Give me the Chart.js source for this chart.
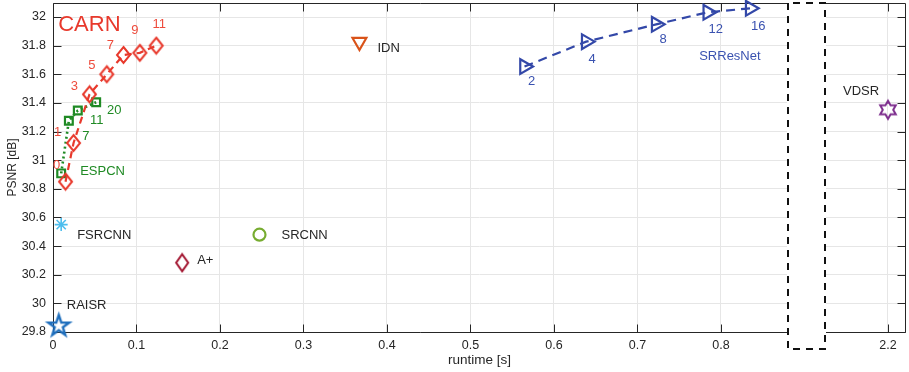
<!DOCTYPE html>
<html><head><meta charset="utf-8">
<script src="https://cdn.jsdelivr.net/npm/chart.js@4.4.1/dist/chart.umd.min.js"></script>
<style>html,body{margin:0;padding:0;background:#fff}#wrap{width:909px;height:372px;position:relative}</style>
</head><body><div id="wrap"><canvas id="c"></canvas></div>
<script>
// ---------------- data ----------------
const carnRuntime = [0.015, 0.0246, 0.0437, 0.0644, 0.0844, 0.104, 0.1236];
const carnPSNR    = [30.85, 31.12, 31.46, 31.60, 31.735, 31.75, 31.80];
const carnLabels  = ['0', '1', '3', '5', '7', '9', '11'];

const espcnRuntime = [0.0098, 0.019, 0.0297, 0.0517];
const espcnPSNR    = [30.908, 31.275, 31.347, 31.405];
const espcnLabels  = ['', '7', '11', '20'];

const srresRuntime = [0.5647, 0.6386, 0.7224, 0.7842, 0.835];
const srresPSNR    = [31.654, 31.828, 31.949, 32.033, 32.061];
const srresLabels  = ['2', '4', '8', '12', '16'];

const singleNames   = ['FSRCNN', 'A+', 'SRCNN', 'RAISR', 'IDN', 'VDSR'];
const singleRuntime = [0.0098, 0.1547, 0.2473, 0.0069, 0.367, 2.2];
const singlePSNR    = [30.55, 30.284, 30.48, 29.842, 31.826, 31.352];

const xTickValues = [0, 0.1, 0.2, 0.3, 0.4, 0.5, 0.6, 0.7, 0.8, 2.2];
const yTickValues = [29.8, 30, 30.2, 30.4, 30.6, 30.8, 31, 31.2, 31.4, 31.6, 31.8, 32];

const xTitle = 'runtime [s]';
const yTitle = 'PSNR [dB]';

// ---------------- broken axis ----------------
const BREAK_AT = 1.0;       // runtimes beyond this are drawn after the break
const BREAK_SHIFT = 1.2;
const GAP_FROM = 0.8795, GAP_TO = 0.926;   // axis-space extent of the break
function toAxis(v) { return v > BREAK_AT ? v - BREAK_SHIFT : v; }
function fromAxis(v) { return v > 0.9 ? v + BREAK_SHIFT : v; }
function fmt(v) { return String(Math.round(v * 10) / 10); }

// ---------------- marker images ----------------
function markerCanvas(w, h, draw) {
  const c = document.createElement('canvas'); c.width = w; c.height = h;
  draw(c.getContext('2d'), w, h); return c;
}
function diamond(color, w, h, lw) {
  return markerCanvas(w + 2 * lw, h + 2 * lw, (g, W, H) => {
    g.strokeStyle = color; g.lineWidth = lw; g.lineJoin = 'miter';
    g.beginPath(); g.moveTo(W / 2, lw); g.lineTo(W - lw, H / 2); g.lineTo(W / 2, H - lw); g.lineTo(lw, H / 2);
    g.closePath(); g.stroke();
  });
}
function starMarker(color, n, R, r, lw) {
  const S = Math.ceil(2 * R + 2 * lw + 4);
  return markerCanvas(S, S, (g) => {
    g.strokeStyle = color; g.lineWidth = lw; g.lineJoin = 'miter';
    g.beginPath();
    for (let k = 0; k < 2 * n; k++) {
      const rad = k % 2 === 0 ? R : r;
      const a = -Math.PI / 2 + k * Math.PI / n;
      g.lineTo(S / 2 + rad * Math.cos(a), S / 2 + rad * Math.sin(a));
    }
    g.closePath(); g.stroke();
  });
}

const C = {
  carn: '#e8392c', carnText: '#ee4b3c',
  espcn: '#1f8a24', srres: '#3348a8', srresText: '#3a52b0',
  fsrcnn: '#4dbeee', aplus: '#a2142f', srcnn: '#77ac30', raisr: '#1f6fbd',
  idn: '#d95319', vdsr: '#7e2f8e', text: '#262626'
};
const FONT = '"Liberation Sans", Arial, Helvetica, sans-serif';

function pts(xs, ys) { return xs.map((x, i) => ({ x: toAxis(x), y: ys[i] })); }
function single(i) { return [{ x: toAxis(singleRuntime[i]), y: singlePSNR[i] }]; }

const datasets = [
  { label: 'CARN', data: pts(carnRuntime, carnPSNR), showLine: true, borderColor: C.carn, borderWidth: 2.2,
    borderDash: [7, 5], pointStyle: diamond(C.carn, 13, 16, 2), pointRadius: 8, backgroundColor: 'transparent' },
  { label: 'ESPCN', data: pts(espcnRuntime, espcnPSNR), showLine: true, borderColor: C.espcn, borderWidth: 2.6,
    borderDash: [2, 3], pointStyle: 'rect', pointRadius: 5.5, pointBorderWidth: 2.2, pointBorderColor: C.espcn, pointBackgroundColor: 'transparent' },
  { label: 'SRResNet', data: pts(srresRuntime, srresPSNR), showLine: true, borderColor: C.srres, borderWidth: 2.2,
    borderDash: [9, 6], pointStyle: 'triangle', rotation: 90, pointRadius: 8.5, pointBorderWidth: 2.2, pointBorderColor: C.srres, pointBackgroundColor: 'transparent' },
  { label: singleNames[0], data: single(0), pointStyle: 'star', pointRadius: 6.5, pointBorderWidth: 1.6, pointBorderColor: C.fsrcnn, pointBackgroundColor: 'transparent' },
  { label: singleNames[1], data: single(1), pointStyle: diamond(C.aplus, 12, 17, 2), pointRadius: 9 },
  { label: singleNames[2], data: single(2), pointStyle: 'circle', pointRadius: 6, pointBorderWidth: 2.2, pointBorderColor: C.srcnn, pointBackgroundColor: 'transparent' },
  { label: singleNames[3], data: single(3), pointStyle: starMarker(C.raisr, 5, 11, 4.3, 2.4), pointRadius: 11 },
  { label: singleNames[4], data: single(4), pointStyle: 'triangle', rotation: 180, pointRadius: 8, pointBorderWidth: 2.2, pointBorderColor: C.idn, pointBackgroundColor: 'transparent' },
  { label: singleNames[5], data: single(5), pointStyle: starMarker(C.vdsr, 6, 9, 5.2, 2), pointRadius: 9 }
];
datasets.forEach(d => { d.clip = false; d.showLine = !!d.showLine; });

// ---------------- text annotations (pixel offsets from their marks) ----------------
const carnOff  = [[-9, -16], [-16, -11], [-15, -8], [-15, -9], [-13, -10], [-5, -22], [3, -21]];
const espcnOff = [[0, 0], [17, 16], [19, 10], [18, 8]];
const srresOff = [[7, 15], [6, 18], [7, 15], [8, 17], [8, 18]];
const nameOff  = [[16, 11], [15, -2], [22, 1], [8, -21], [18, 6], [-45, -18]];

const labelSpecs = [];
carnLabels.forEach((t, i) => labelSpecs.push({ ds: 0, i, text: t, dx: carnOff[i][0], dy: carnOff[i][1], color: C.carnText, size: 13, align: 'center' }));
espcnLabels.forEach((t, i) => { if (t) labelSpecs.push({ ds: 1, i, text: t, dx: espcnOff[i][0], dy: espcnOff[i][1], color: C.espcn, size: 13, align: 'center' }); });
srresLabels.forEach((t, i) => labelSpecs.push({ ds: 2, i, text: t, dx: srresOff[i][0], dy: srresOff[i][1], color: C.srresText, size: 13, align: 'center' }));
singleNames.forEach((t, k) => labelSpecs.push({ ds: 3 + k, i: 0, text: t, dx: nameOff[k][0], dy: nameOff[k][1], color: C.text, size: 13, align: 'left' }));
labelSpecs.push({ ds: 1, i: 0, text: 'ESPCN', dx: 19, dy: -2, color: C.espcn, size: 13, align: 'left' });
labelSpecs.push({ ds: 2, i: 4, text: 'SRResNet', dx: -51, dy: 48, color: C.srresText, size: 13, align: 'left' });
labelSpecs.push({ ds: 0, i: 6, text: 'CARN', dx: -98, dy: -21, color: C.carn, size: 22, align: 'left' });

const labelPlugin = {
  id: 'textLabels',
  afterDatasetsDraw(chart) {
    const ctx = chart.ctx;
    labelSpecs.forEach(s => {
      const el = chart.getDatasetMeta(s.ds).data[s.i];
      ctx.save();
      ctx.font = s.size + 'px ' + FONT;
      ctx.fillStyle = s.color; ctx.textAlign = s.align; ctx.textBaseline = 'middle';
      ctx.fillText(s.text, el.x + s.dx, el.y + s.dy);
      ctx.restore();
    });
  }
};

const axesPlugin = {
  id: 'matlabAxes',
  beforeDatasetsDraw(chart) {
    const { ctx, chartArea: a, scales: { x, y } } = chart;
    const g0 = Math.round(x.getPixelForValue(GAP_FROM)), g1 = Math.round(x.getPixelForValue(GAP_TO));
    const L = a.left + 0.5, R = a.right - 0.5, T = a.top + 0.5, B = a.bottom + 0.5;
    ctx.save();
    ctx.fillStyle = '#fff'; ctx.fillRect(g0, 0, g1 - g0, a.bottom + 30);
    ctx.strokeStyle = C.text; ctx.lineWidth = 1;
    const line = (x1, y1, x2, y2) => { ctx.beginPath(); ctx.moveTo(x1, y1); ctx.lineTo(x2, y2); ctx.stroke(); };
    line(L, T, L, B); line(R, T, R, B);
    line(L, B, g0, B); line(g1, B, R, B);
    line(L, T, g0, T); line(g1, T, R, T);
    x.ticks.forEach(t => { const px = Math.round(x.getPixelForValue(t.value)) + 0.5; line(px, B, px, B - 8); line(px, T, px, T + 8); });
    y.ticks.forEach(t => { const py = Math.round(y.getPixelForValue(t.value)) + 0.5; line(L, py, L + 8, py); line(R, py, R - 8, py); });
    ctx.strokeStyle = '#111'; ctx.lineWidth = 2; ctx.setLineDash([7, 6]);
    ctx.beginPath();
    ctx.moveTo(g0 + 1, a.top); ctx.lineTo(g0 + 1, a.bottom + 17); ctx.lineTo(g1 - 1, a.bottom + 17); ctx.lineTo(g1 - 1, a.top); ctx.closePath();
    ctx.stroke();
    ctx.restore();
  }
};

new Chart(document.getElementById('c'), {
  type: 'scatter',
  data: { datasets },
  options: {
    responsive: true, maintainAspectRatio: false, animation: false,
    layout: { autoPadding: false, padding: { left: 0, right: 3, top: 3, bottom: 0 } },
    plugins: { legend: { display: false }, tooltip: { enabled: false } },
    scales: {
      x: {
        type: 'linear', min: 0, max: 1.0216,
        afterBuildTicks: s => { s.ticks = xTickValues.map(v => ({ value: toAxis(v) })); },
        afterFit: s => { s.height = 40; s.paddingLeft = 0; s.paddingRight = 0; },
        grid: { color: '#e6e6e6', drawTicks: false },
        border: { display: false },
        ticks: { padding: 6, maxRotation: 0, minRotation: 0, autoSkip: false, color: C.text, font: { family: FONT, size: 12.5 },
          callback: v => fmt(fromAxis(v)) },
        title: { display: true, text: xTitle, color: C.text, font: { family: FONT, size: 13.5 }, padding: { top: 4, bottom: 4 } }
      },
      y: {
        type: 'linear', min: 29.8, max: 32.098,
        afterBuildTicks: s => { s.ticks = yTickValues.map(v => ({ value: v })); },
        afterFit: s => { s.width = 53; s.paddingTop = 0; s.paddingBottom = 0; },
        grid: { color: '#e6e6e6', drawTicks: false },
        border: { display: false },
        ticks: { padding: 7, autoSkip: false, color: C.text, font: { family: FONT, size: 12.5 }, callback: v => fmt(v) },
        title: { display: true, text: yTitle, color: C.text, font: { family: FONT, size: 12 }, padding: { top: 5, bottom: 4 } }
      }
    }
  },
  plugins: [axesPlugin, labelPlugin]
});
</script>
</body></html>
